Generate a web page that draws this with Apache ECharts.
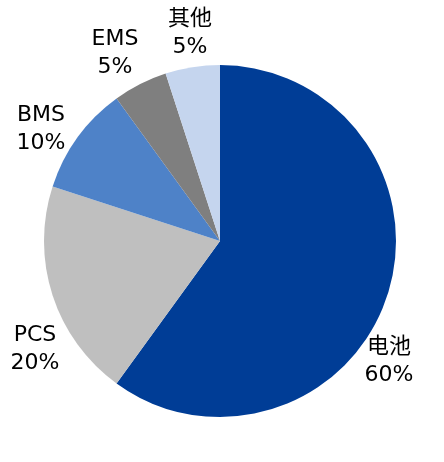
<!DOCTYPE html>
<html>
<head>
<meta charset="utf-8">
<script src="https://cdn.jsdelivr.net/npm/echarts@6/dist/echarts.min.js"></script>
<style>
html,body{margin:0;padding:0;background:#fff;}
#chart{width:444px;height:462px;}
</style>
</head>
<body>
<div id="chart"></div>
<script>
const categories = ['电池', 'PCS', 'BMS', 'EMS', '其他'];
const shares = [60, 20, 10, 5, 5];
const colors = ['#003D96', '#BFBFBF', '#4E82C8', '#7F7F7F', '#C5D5EE'];

// label block centres (layout only)
const labelPos = [[389, 361], [35, 349], [41, 129], [115, 53], [190, 33]];

const chart = echarts.init(document.getElementById('chart'));
chart.setOption({
  animation: false,
  backgroundColor: '#ffffff',
  series: [{
    type: 'pie',
    center: [220, 241],
    radius: [0, 176],
    startAngle: 90,
    clockwise: true,
    avoidLabelOverlap: false,
    data: categories.map((c, i) => ({
      name: c, value: shares[i], itemStyle: { color: colors[i] }
    })),
    label: {
      show: true,
      position: 'outside',
      formatter: '{b}\n{c}%',
      fontFamily: '"DejaVu Sans", "Noto Sans CJK SC", sans-serif',
      fontSize: 22,
      lineHeight: 28,
      color: '#000',
      align: 'center'
    },
    labelLine: { show: false },
    labelLayout: function (p) {
      const pos = labelPos[p.dataIndex];
      return { x: pos[0], y: pos[1], align: 'center', verticalAlign: 'middle' };
    },
    itemStyle: { borderWidth: 0 },
    emphasis: { disabled: true }
  }]
});
</script>
</body>
</html>
